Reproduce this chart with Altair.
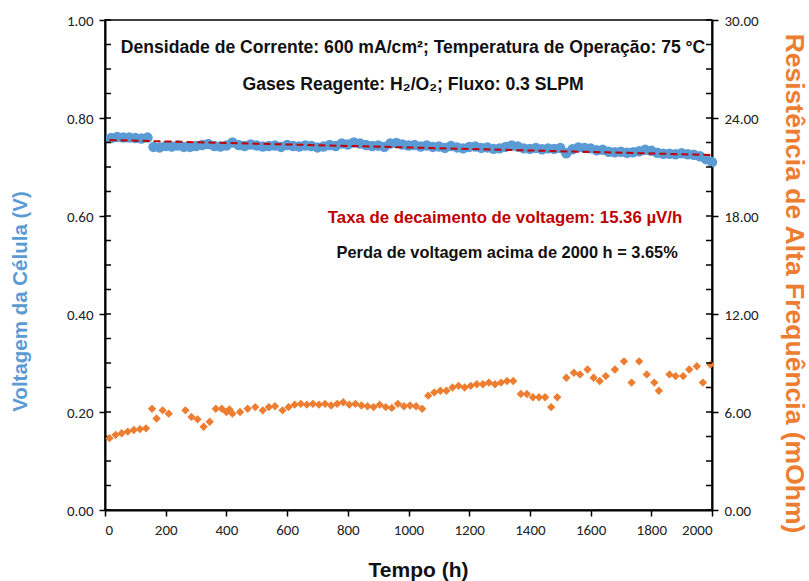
import altair as alt
import pandas as pd

# ---------------- data ----------------
t_blue = list(range(20, 2001, 20))
v_blue = [0.759, 0.761, 0.760, 0.760, 0.759, 0.758, 0.760,
          0.741, 0.740, 0.743, 0.742, 0.744, 0.741,
          0.741, 0.743, 0.745, 0.747, 0.743, 0.742, 0.744, 0.750,
          0.745, 0.743, 0.746, 0.744, 0.742, 0.743, 0.744, 0.741, 0.745, 0.743, 0.742,
          0.744, 0.743, 0.740, 0.742, 0.745, 0.743, 0.748, 0.746, 0.750, 0.748, 0.745,
          0.743, 0.744, 0.741, 0.748, 0.749, 0.746, 0.744, 0.745, 0.742, 0.744, 0.741,
          0.742, 0.739, 0.743, 0.740, 0.738, 0.741, 0.742, 0.739, 0.740, 0.737, 0.738,
          0.741, 0.744, 0.742, 0.738, 0.737, 0.739, 0.736, 0.738, 0.737, 0.739, 0.728,
          0.736, 0.740, 0.739, 0.738, 0.734, 0.735, 0.731, 0.730, 0.731, 0.729, 0.730,
          0.732, 0.735, 0.733, 0.729, 0.727, 0.727, 0.726, 0.728,
          0.726, 0.725, 0.722, 0.716, 0.710]

t_hfr = [15, 35, 55, 75, 95, 115, 135, 155, 170, 190, 210, 265, 285, 305, 325, 345,
         365, 385, 400, 410, 420, 445, 470, 495, 520, 540, 560, 585, 605, 625, 645,
         665, 685, 705, 725, 745, 765, 785, 805, 825, 845, 865, 885, 905, 925, 945,
         965, 985, 1005, 1025, 1045, 1065, 1085, 1105, 1125, 1145, 1165, 1185, 1205,
         1225, 1245, 1265, 1285, 1305, 1325, 1345, 1370, 1390, 1410, 1430, 1450, 1470,
         1490, 1520, 1545, 1565, 1590, 1610, 1630, 1650, 1680, 1710, 1735, 1760, 1785,
         1810, 1825, 1860, 1880, 1905, 1925, 1950, 1970, 1995]
hfr = [4.4, 4.6, 4.7, 4.8, 4.9, 4.95, 5.0, 6.2, 5.6, 6.1, 5.9, 6.1, 5.7, 5.55, 5.1, 5.4,
       6.2, 6.2, 6.0, 6.15, 5.9, 6.0, 6.2, 6.3, 6.1, 6.3, 6.35, 6.1, 6.3, 6.45, 6.5,
       6.45, 6.5, 6.45, 6.5, 6.4, 6.5, 6.6, 6.45, 6.5, 6.4, 6.35, 6.3, 6.45, 6.3, 6.25,
       6.5, 6.35, 6.4, 6.35, 6.2, 7.0, 7.2, 7.3, 7.3, 7.5, 7.6, 7.5, 7.6,
       7.7, 7.7, 7.8, 7.7, 7.8, 7.9, 7.9, 7.1, 7.1, 6.9, 6.9, 6.9, 6.3,
       6.9, 8.1, 8.4, 8.3, 8.6, 8.1, 7.9, 8.2, 8.6, 9.1, 7.8, 9.1, 8.3,
       7.8, 7.3, 8.3, 8.2, 8.2, 8.6, 8.8, 7.8, 8.9]

trend_t = [15, 2000]
trend_v = [0.755, 0.7245]

x_ticks = [0, 200, 400, 600, 800, 1000, 1200, 1400, 1600, 1800, 2000]
left_major = [0.0, 0.2, 0.4, 0.6, 0.8, 1.0]
left_minor = [0.0, 0.05, 0.1, 0.15, 0.2, 0.25, 0.3, 0.35, 0.4, 0.45, 0.5, 0.55, 0.6,
              0.65, 0.7, 0.75, 0.8, 0.85, 0.9, 0.95, 1.0]
right_major = [0, 6, 12, 18, 24, 30]
right_minor = [0, 1.5, 3, 4.5, 6, 7.5, 9, 10.5, 12, 13.5, 15, 16.5, 18, 19.5, 21,
               22.5, 24, 25.5, 27, 28.5, 30]

labels = ["Densidade de Corrente: 600 mA/cm²; Temperatura de Operação: 75 °C",
          "Gases Reagente: H₂/O₂; Fluxo: 0.3 SLPM",
          "Taxa de decaimento de voltagem: 15.36 µV/h",
          "Perda de voltagem acima de 2000 h = 3.65%"]
label_t = [1015, 1015, 1318, 1325]
label_v = [0.943, 0.867, 0.596, 0.524]
label_col = ["#111111", "#111111", "#C00000", "#111111"]
label_size = [17.6, 17.6, 16.8, 16.4]

# ---------------- frames ----------------
df_blue = pd.DataFrame({"t": t_blue, "v": v_blue})
df_hfr = pd.DataFrame({"t": t_hfr, "r": hfr})
df_trend = pd.DataFrame({"t": trend_t, "v": trend_v})
df_lminor = pd.DataFrame({"v": left_minor})
df_rminor = pd.DataFrame({"r": right_minor})
df_text = pd.DataFrame({"t": label_t, "v": label_v, "label": labels,
                        "col": label_col, "fs": label_size})

W, H = 607, 490
BLUE = "#5B9BD5"
ORANGE = "#ED7D31"
LABEL_FONT = "Carlito, Lato, Liberation Sans"
TITLE_FONT = "Liberation Sans, Arial"

X_ENC = alt.X("t:Q", scale=alt.Scale(domain=[0, 2000], nice=False),
              axis=alt.Axis(values=x_ticks, format="d", title="Tempo (h)",
                            titleFontSize=21, titleFontWeight="bold", titleColor="#111111",
                            titleFont=TITLE_FONT, titleX=313, titleY=60,
                            titleBaseline="middle", labelPadding=6))

Y_LEFT = alt.Y("v:Q", scale=alt.Scale(domain=[0, 1], nice=False),
               axis=alt.Axis(values=left_major, format=".2f",
                             title="Voltagem da Célula (V)", titleColor=BLUE,
                             titleFontSize=20.5, titleFontWeight="bold", titleFont=TITLE_FONT,
                             titleX=-85, titleY=281, titleBaseline="middle",
                             labelPadding=6))

Y_RIGHT = alt.Y("r:Q", scale=alt.Scale(domain=[0, 30], nice=False),
                axis=alt.Axis(values=right_major, format=".2f", orient="right",
                              title="Resistência de Alta Frequência (mOhm)", titleColor=ORANGE,
                              titleFontSize=26.5, titleFontWeight="bold", titleFont=TITLE_FONT,
                              titleX=81, titleY=263, titleBaseline="middle",
                              labelPadding=6))

blue = alt.Chart(df_blue).mark_circle(size=110, color=BLUE, opacity=1).encode(x=X_ENC, y=Y_LEFT)
trend = alt.Chart(df_trend).mark_line(color="#C00000", strokeDash=[7, 4], strokeWidth=2).encode(
    x=X_ENC, y=Y_LEFT)
lminor = alt.Chart(df_lminor).mark_rule(color="black", strokeWidth=1.5).encode(
    y=Y_LEFT, x=alt.value(0), x2=alt.value(6))
texts = alt.Chart(df_text).mark_text(font="Liberation Sans Narrow, Liberation Sans",
                                     fontWeight="bold").encode(
    x=X_ENC, y=Y_LEFT, text="label:N", color=alt.Color("col:N", scale=None),
    size=alt.Size("fs:Q", scale=None))

left = alt.layer(blue, trend, lminor, texts)

orange = alt.Chart(df_hfr).mark_point(shape="diamond", filled=True, size=70, color=ORANGE,
                                      opacity=1).encode(x=X_ENC, y=Y_RIGHT)
rminor = alt.Chart(df_rminor).mark_rule(color="black", strokeWidth=1.5).encode(
    y=Y_RIGHT, x=alt.value(W - 6), x2=alt.value(W))

right = alt.layer(orange, rminor)

chart = alt.layer(left, right).resolve_scale(y="independent").properties(
    width=W, height=H,
    autosize=alt.AutoSizeParams(type="none"),
    padding={"left": 105, "top": 20, "right": 97, "bottom": 71},
    background="white",
).configure_view(stroke="black", strokeWidth=1.5).configure_axis(
    grid=False, domainColor="black", domainWidth=2, tickColor="black", tickWidth=1.5,
    tickSize=6, labelFont=LABEL_FONT, labelFontSize=15, labelColor="#222222",
)

chart.save("out.html", embed_options={"renderer": "svg", "actions": False})
